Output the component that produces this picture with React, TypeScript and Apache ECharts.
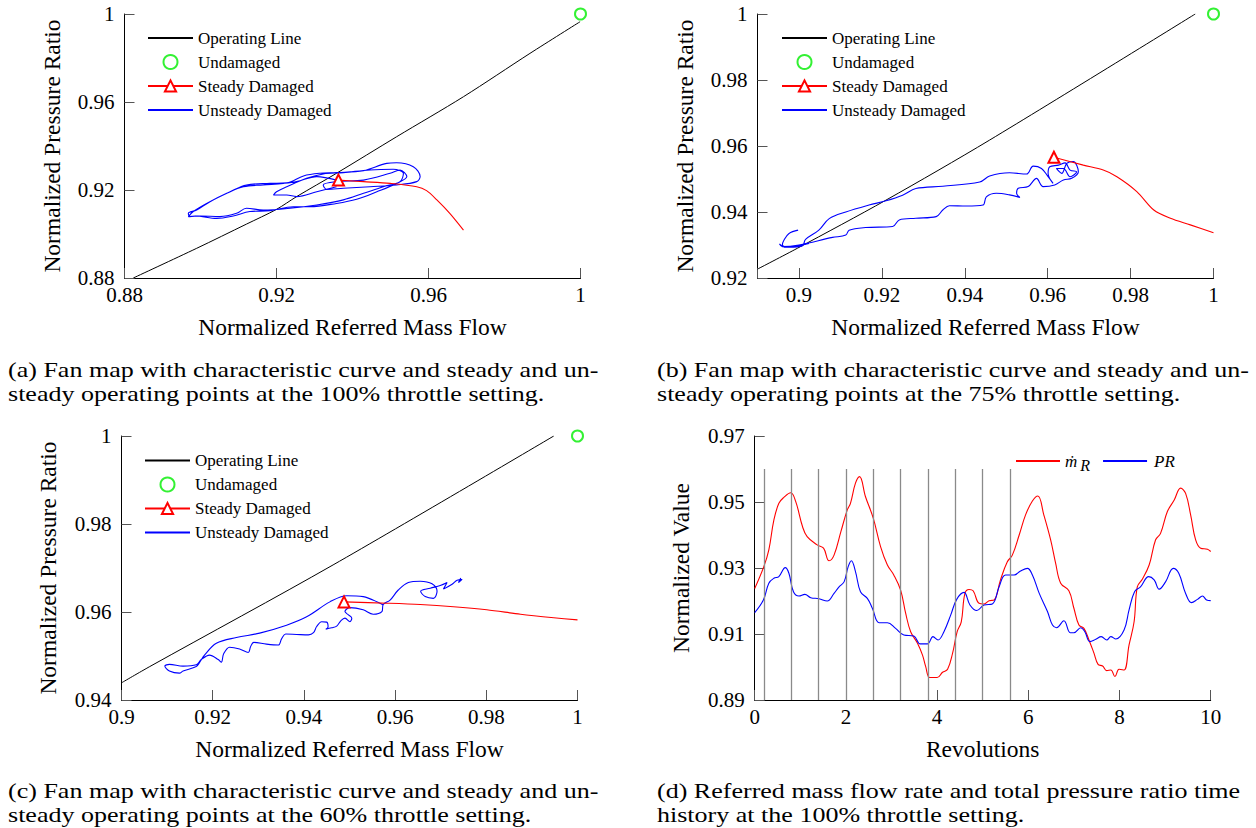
import React, { useEffect, useRef } from "react";
import * as echarts from "echarts";

const FONT = "Liberation Serif";

// ---------- (a) 100% throttle ----------
const opLineAX = [0.8823, 0.899, 0.9121, 0.92, 0.9253, 0.9358, 0.9516, 0.9692, 0.9867, 0.9999];
const opLineAY = [0.88, 0.8935, 0.9045, 0.9112, 0.917, 0.9276, 0.9442, 0.9624, 0.9821, 0.9965];
const steadyAX = [0.9363, 0.9429, 0.9499, 0.9569, 0.9595, 0.9622, 0.9656, 0.9692];
const steadyAY = [0.9245, 0.9238, 0.923, 0.9215, 0.9197, 0.9155, 0.9094, 0.9018];
const unsteadyAX = [
  0.9358, 0.9306, 0.9253, 0.9227, 0.9192, 0.92, 0.9227, 0.9279, 0.9323, 0.9376,
  0.9446, 0.9507, 0.9534, 0.9525, 0.9481, 0.9429, 0.9376, 0.9306, 0.9236, 0.9165,
  0.9121, 0.9095, 0.9051, 0.8999, 0.8972, 0.8968, 0.899, 0.9025, 0.9078, 0.9121,
  0.9183, 0.9227, 0.9271, 0.9314, 0.9358, 0.9429, 0.949, 0.9516, 0.956, 0.9578,
  0.9569, 0.9516, 0.9446, 0.9376, 0.9332, 0.9323, 0.9358, 0.9429, 0.9499, 0.9525,
  0.9543, 0.9516, 0.9464, 0.9411, 0.9358, 0.9288, 0.9244, 0.9183, 0.913, 0.9086,
  0.9043, 0.8986, 0.8968, 0.8981, 0.9016, 0.9069, 0.9113, 0.9165, 0.9218, 0.9253,
  0.9306, 0.9358,
];
const unsteadyAY = [
  0.9215, 0.9192, 0.917, 0.9177, 0.9177, 0.9192, 0.9215, 0.9253, 0.9273, 0.9279,
  0.9291, 0.9294, 0.9276, 0.9238, 0.9215, 0.9185, 0.9155, 0.9132, 0.9117, 0.9109,
  0.9117, 0.9094, 0.9079, 0.9082, 0.9079, 0.9094, 0.9109, 0.9147, 0.9192, 0.9223,
  0.923, 0.9233, 0.9264, 0.9276, 0.9279, 0.9288, 0.9321, 0.9324, 0.9306, 0.9261,
  0.9238, 0.9223, 0.9215, 0.9208, 0.9203, 0.9223, 0.9238, 0.9245, 0.9276, 0.9291,
  0.9261, 0.923, 0.9192, 0.9158, 0.9139, 0.9124, 0.9124, 0.9106, 0.9102, 0.9082,
  0.9071, 0.9082, 0.9079, 0.9102, 0.9139, 0.9185, 0.9215, 0.9223, 0.923, 0.9238,
  0.9261, 0.9245,
];

// ---------- (b) 75% throttle ----------
const opLineBX = [0.89, 0.8996, 0.921, 0.946, 0.9956];
const opLineBY = [0.9227, 0.929, 0.9436, 0.9618, 1.0];
const steadyBX = [0.9615, 0.9686, 0.9734, 0.9767, 0.9815, 0.9856, 0.9896, 0.9944, 1.0];
const steadyBY = [0.9566, 0.9542, 0.9527, 0.9507, 0.9462, 0.9406, 0.9381, 0.9361, 0.9337];
const unsteadyBX = [
  0.8998, 0.8976, 0.8964, 0.896, 0.8976, 0.9008, 0.9016, 0.9048, 0.9073, 0.9113,
  0.9169, 0.921, 0.925, 0.9282, 0.9347, 0.9436, 0.946, 0.9508, 0.9549, 0.9565,
  0.9585, 0.9601, 0.9613, 0.9601, 0.9605, 0.9626, 0.9642, 0.9654, 0.967, 0.9654,
  0.9638, 0.9621, 0.9634, 0.9646, 0.9662, 0.9674, 0.9658, 0.9638, 0.9617, 0.9589,
  0.9573, 0.9553, 0.9529, 0.9525, 0.9533, 0.9508, 0.9476, 0.9452, 0.9444, 0.9404,
  0.9363, 0.9347, 0.9331, 0.9282, 0.9242, 0.9226, 0.9161, 0.9121, 0.9113, 0.9081,
  0.9, 0.896, 0.8953, 0.8968, 0.9024,
];
const unsteadyBY = [
  0.9345, 0.9335, 0.9315, 0.93, 0.9293, 0.9297, 0.9317, 0.9345, 0.938, 0.94,
  0.9421, 0.9434, 0.9451, 0.9471, 0.9478, 0.9491, 0.9509, 0.9519, 0.9515, 0.9539,
  0.9532, 0.9507, 0.9487, 0.9517, 0.9537, 0.9542, 0.9549, 0.9527, 0.9522, 0.9507,
  0.9532, 0.9532, 0.9517, 0.9547, 0.9553, 0.9522, 0.9502, 0.9497, 0.9482, 0.9477,
  0.9502, 0.9477, 0.9472, 0.9457, 0.9444, 0.9452, 0.9457, 0.9446, 0.9421, 0.9418,
  0.9419, 0.9406, 0.9386, 0.9381, 0.9376, 0.9356, 0.9353, 0.9345, 0.933, 0.9323,
  0.93, 0.9295, 0.9303, 0.9293, 0.9305,
];

// ---------- (c) 60% throttle ----------
const opLineCX = [0.9, 0.9062, 0.9464, 0.9948];
const opLineCY = [0.9439, 0.9476, 0.9707, 1.0];
const steadyCX = [0.9488, 0.9582, 0.9655, 0.9728, 0.9801, 0.9875, 0.9948, 1.0];
const steadyCY = [0.9623, 0.962, 0.9617, 0.9612, 0.9605, 0.9595, 0.9587, 0.9582];
const unsteadyCX = [
  0.9574, 0.9567, 0.953, 0.9494, 0.9457, 0.9406, 0.9362, 0.9303, 0.9252, 0.9208,
  0.9182, 0.9171, 0.9164, 0.9135, 0.9127, 0.9105, 0.9095, 0.9105, 0.9135, 0.9164,
  0.9175,
  0.9193, 0.9212, 0.9219, 0.9224, 0.9237, 0.9259, 0.9278, 0.9283, 0.929, 0.9318,
  0.9344, 0.9351, 0.936, 0.9384, 0.941, 0.9421, 0.9428, 0.9439, 0.945, 0.9453,
  0.9448, 0.9461, 0.9472, 0.9481, 0.949, 0.9501, 0.9505, 0.9497, 0.949, 0.9501,
  0.953, 0.9552, 0.9571, 0.9574,
  0.9589, 0.9607, 0.9629, 0.9655, 0.9681, 0.9692, 0.9684, 0.9666, 0.9656, 0.9677,
  0.9699, 0.9714, 0.9706, 0.9725, 0.9736, 0.9747, 0.9739, 0.9744,
];
const unsteadyCY = [
  0.9616, 0.962, 0.9635, 0.9637, 0.9623, 0.9589, 0.957, 0.9552, 0.9542, 0.9529,
  0.9502, 0.9485, 0.9476, 0.9466, 0.9461, 0.9466, 0.9477, 0.9481, 0.9477, 0.948,
  0.9492,
  0.9502, 0.9492, 0.9486, 0.9505, 0.952, 0.9516, 0.9508, 0.9521, 0.9531, 0.9527,
  0.9525, 0.9539, 0.955, 0.9549, 0.9548, 0.9553, 0.9567, 0.9578, 0.9577, 0.9566,
  0.9561, 0.9564, 0.9568, 0.958, 0.9586, 0.9578, 0.9586, 0.9594, 0.9601, 0.961,
  0.9605, 0.9595, 0.9601, 0.9617,
  0.9627, 0.965, 0.9667, 0.967, 0.9664, 0.9647, 0.9631, 0.9635, 0.9647, 0.9654,
  0.966, 0.9667, 0.9652, 0.9663, 0.9672, 0.9674, 0.9667, 0.9677,
];

// undamaged design point (same in a, b, c)
const undamagedX = 1.0;
const undamagedY = 1.0;

// ---------- (d) time history ----------
const mdotTime = [
  0, 0.2, 0.31, 0.42, 0.53, 0.64, 0.79, 0.9, 1.05, 1.15, 1.37, 1.51, 1.63, 1.74, 1.89, 2.03,
  2.1, 2.21, 2.3, 2.43, 2.6, 2.76, 2.91, 3.05, 3.2, 3.31, 3.42, 3.57, 3.68, 3.75, 3.84, 4.0,
  4.12, 4.23, 4.34, 4.44, 4.53, 4.61, 4.7, 4.79, 4.92, 5.03, 5.14, 5.25, 5.39, 5.54, 5.65,
  5.8, 5.94, 6.09, 6.21, 6.34, 6.49, 6.6, 6.71, 6.89, 7.0, 7.11, 7.22, 7.33, 7.44, 7.53,
  7.63, 7.72, 7.81, 7.9, 7.99, 8.1, 8.21, 8.32, 8.39, 8.5, 8.65, 8.79, 8.9, 9.05, 9.2,
  9.34, 9.45, 9.56, 9.67, 9.78, 9.93, 10.0,
];
const mdotValues = [
  0.9238, 0.9304, 0.9355, 0.9445, 0.9496, 0.9514, 0.9528, 0.9501, 0.9425, 0.9395, 0.937,
  0.936, 0.9322, 0.9339, 0.941, 0.9476, 0.9496, 0.9557, 0.9577, 0.9516, 0.9451, 0.9365,
  0.9309, 0.9279, 0.9233, 0.9163, 0.9107, 0.9072, 0.9036, 0.9001, 0.8968, 0.8968, 0.8984,
  0.8993, 0.9042, 0.9107, 0.9137, 0.9223, 0.9235, 0.9231, 0.9193, 0.9191, 0.9201, 0.9203,
  0.9264, 0.9319, 0.9339, 0.94, 0.9461, 0.9503, 0.9518, 0.9461, 0.9385, 0.9314, 0.9254,
  0.9231, 0.9178, 0.9127, 0.9117, 0.9082, 0.9042, 0.9008, 0.9003, 0.8989, 0.8991, 0.8971,
  0.8993, 0.8991, 0.9067, 0.9137, 0.9243, 0.9266, 0.9309, 0.9385, 0.9405, 0.9471, 0.9506,
  0.9542, 0.9526, 0.9461, 0.9385, 0.936, 0.9357, 0.935,
];
const prTime = [
  0, 0.19, 0.31, 0.42, 0.53, 0.67, 0.75, 0.85, 0.97, 1.1, 1.23, 1.41, 1.59, 1.74, 1.85,
  1.96, 2.05, 2.12, 2.21, 2.32, 2.47, 2.58, 2.73, 2.91, 3.09, 3.27, 3.49, 3.63, 3.79, 3.91,
  4.02, 4.15, 4.3, 4.43, 4.59, 4.72, 4.87, 5.03, 5.21, 5.36, 5.5, 5.69, 5.83, 5.98, 6.09,
  6.24, 6.42, 6.53, 6.62, 6.78, 6.92, 7.0, 7.15, 7.24, 7.35, 7.48, 7.6, 7.72, 7.81, 7.92,
  8.1, 8.21, 8.33, 8.46, 8.64, 8.76, 8.87, 9.01, 9.18, 9.3, 9.45, 9.58, 9.71, 9.82, 9.91,
  10.0,
];
const prValues = [
  0.9165, 0.9203, 0.9254, 0.9269, 0.9274, 0.9301, 0.9284, 0.9228, 0.9215, 0.922, 0.921,
  0.9207, 0.92, 0.9223, 0.9243, 0.9258, 0.9304, 0.9322, 0.9289, 0.9228, 0.9208, 0.9178,
  0.9134, 0.9134, 0.9117, 0.9097, 0.9094, 0.907, 0.907, 0.9092, 0.9082, 0.9107, 0.9158,
  0.9205, 0.9226, 0.9188, 0.9171, 0.9188, 0.9191, 0.9243, 0.9279, 0.9279, 0.9291, 0.9299,
  0.9279, 0.9223, 0.9168, 0.9127, 0.9119, 0.914, 0.9104, 0.9104, 0.9119, 0.9107, 0.9077,
  0.9084, 0.9092, 0.9082, 0.9092, 0.9085, 0.9112, 0.9173, 0.9228, 0.9243, 0.9274, 0.9264,
  0.9236, 0.9258, 0.9299, 0.9284, 0.9223, 0.9195, 0.9205, 0.9215, 0.9203, 0.9201,
];
const revolutionMarks = [0.2, 0.8, 1.4, 2.0, 2.6, 3.2, 3.8, 4.4, 5.0, 5.6];
const markLow = 0.89;
const markHigh = 0.96;

const captions = [
  { x: 8, y: 370, text: "(a) Fan map with characteristic curve and steady and un-" },
  { x: 8, y: 394, text: "steady operating points at the 100% throttle setting." },
  { x: 657, y: 370, text: "(b) Fan map with characteristic curve and steady and un-" },
  { x: 657, y: 394, text: "steady operating points at the 75% throttle setting." },
  { x: 8, y: 791, text: "(c) Fan map with characteristic curve and steady and un-" },
  { x: 8, y: 815, text: "steady operating points at the 60% throttle setting." },
  { x: 657, y: 791, text: "(d) Referred mass flow rate and total pressure ratio time" },
  { x: 657, y: 815, text: "history at the 100% throttle setting." },
];

const pairs = (xs: number[], ys: number[]) => xs.map((x, i) => [x, ys[i]]);

const lineOnly = { itemStyle: { opacity: 0 } };
const MAP_LEGEND_DATA = [
  { name: "Operating Line", ...lineOnly },
  { name: "Undamaged" },
  { name: "Steady Damaged" },
  { name: "Unsteady Damaged", ...lineOnly },
];

function axisBase(gridIndex: number, name: string, nameGap: number, isX: boolean) {
  return {
    type: "value" as const,
    gridIndex,
    name,
    nameLocation: "middle" as const,
    nameGap,
    nameTextStyle: { color: "#000", fontFamily: FONT, fontSize: 23.5 },
    axisLine: { show: true, onZero: false, lineStyle: { color: "#000", width: 1 } },
    axisTick: { show: true, inside: true, length: 10, lineStyle: { color: "#555", width: 1 } },
    splitLine: { show: false },
    axisLabel: { color: "#000", fontFamily: FONT, fontSize: 21, margin: isX ? 6 : 10 },
  };
}

function mapSeries(i: number, op: number[][], steady: number[][], unsteady: number[][]) {
  return [
    {
      name: "Operating Line",
      type: "line",
      xAxisIndex: i,
      yAxisIndex: i,
      data: op,
      smooth: 0.3,
      symbol: "none",
      lineStyle: { color: "#000", width: 1 },
      itemStyle: { color: "#000" },
      z: 3,
    },
    {
      name: "Unsteady Damaged",
      type: "line",
      xAxisIndex: i,
      yAxisIndex: i,
      data: unsteady,
      smooth: 0.35,
      symbol: "none",
      lineStyle: { color: "#0000ff", width: 1.1 },
      itemStyle: { color: "#0000ff" },
      z: 4,
    },
    {
      name: "Steady Damaged",
      type: "line",
      xAxisIndex: i,
      yAxisIndex: i,
      data: steady.map((p, k) => (k === 0 ? { value: p } : { value: p, symbol: "none" })),
      smooth: 0.3,
      symbol: "emptyTriangle",
      symbolSize: 11,
      showSymbol: true,
      lineStyle: { color: "#ff0000", width: 1.1 },
      itemStyle: { color: "#ff0000", borderWidth: 1.3 },
      z: 5,
    },
    {
      name: "Undamaged",
      type: "scatter",
      xAxisIndex: i,
      yAxisIndex: i,
      data: [[undamagedX, undamagedY]],
      symbol: "emptyCircle",
      symbolSize: 11,
      clip: false,
      itemStyle: { color: "#00ee00", borderWidth: 1.3 },
      z: 6,
    },
  ];
}

function mapLegend(left: number, top: number) {
  return {
    data: MAP_LEGEND_DATA,
    orient: "vertical" as const,
    left,
    top,
    padding: 0,
    align: "left" as const,
    itemWidth: 45,
    itemHeight: 14,
    itemGap: 7,
    selectedMode: false,
    textStyle: { fontFamily: FONT, fontSize: 17, color: "#000", lineHeight: 16 },
  };
}

function buildOption() {
  const xb = axisBase(1, "Normalized Referred Mass Flow", 37, true);
  return {
    animation: false,
    backgroundColor: "#fff",
    textStyle: { fontFamily: FONT },
    grid: [
      { left: 124.5, top: 14, width: 456, height: 264 },
      { left: 757.5, top: 14, width: 456, height: 264 },
      { left: 121.5, top: 436, width: 456, height: 264 },
      { left: 754.7, top: 436, width: 456, height: 264 },
    ],
    xAxis: [
      { ...axisBase(0, "Normalized Referred Mass Flow", 37, true), min: 0.88, max: 1, interval: 0.04 },
      {
        ...xb,
        min: 0.89,
        max: 1,
        minInterval: 0.02,
        maxInterval: 0.02,
        axisLabel: { ...xb.axisLabel, formatter: (v: number) => (v < 0.8999 ? "" : String(+v.toFixed(2))) },
      },
      { ...axisBase(2, "Normalized Referred Mass Flow", 37, true), min: 0.9, max: 1, interval: 0.02 },
      { ...axisBase(3, "Revolutions", 37, true), min: 0, max: 10, interval: 2 },
    ],
    yAxis: [
      { ...axisBase(0, "Normalized Pressure Ratio", 61, false), min: 0.88, max: 1, interval: 0.04 },
      { ...axisBase(1, "Normalized Pressure Ratio", 61, false), min: 0.92, max: 1, interval: 0.02 },
      { ...axisBase(2, "Normalized Pressure Ratio", 62, false), min: 0.94, max: 1, interval: 0.02 },
      { ...axisBase(3, "Normalized Value", 62, false), min: 0.89, max: 0.97, interval: 0.02 },
    ],
    legend: [
      mapLegend(147, 29.5),
      mapLegend(781, 29.5),
      mapLegend(144, 452),
      {
        data: [
          { name: "ṁR", ...lineOnly },
          { name: "PR", ...lineOnly },
        ],
        orient: "horizontal",
        left: 1015,
        top: 452.5,
        padding: 0,
        itemWidth: 44,
        itemHeight: 14,
        itemGap: 12,
        selectedMode: false,
        formatter: (name: string) => (name === "ṁR" ? "{m|ṁ}{s|R}" : "{i|PR}"),
        textStyle: {
          fontFamily: FONT,
          fontSize: 15,
          color: "#000",
          rich: {
            m: { fontFamily: FONT, fontStyle: "italic", fontSize: 17, color: "#000" },
            s: { fontFamily: FONT, fontStyle: "italic", fontSize: 16, color: "#000", padding: [9, 0, 0, 3] },
            i: { fontFamily: FONT, fontStyle: "italic", fontSize: 17, color: "#000", padding: [0, 0, 0, 2] },
          },
        },
      },
    ],
    series: [
      ...mapSeries(0, pairs(opLineAX, opLineAY), pairs(steadyAX, steadyAY), pairs(unsteadyAX, unsteadyAY)),
      ...mapSeries(1, pairs(opLineBX, opLineBY), pairs(steadyBX, steadyBY), pairs(unsteadyBX, unsteadyBY)),
      ...mapSeries(2, pairs(opLineCX, opLineCY), pairs(steadyCX, steadyCY), pairs(unsteadyCX, unsteadyCY)),
      {
        name: "revolution marks",
        type: "line",
        xAxisIndex: 3,
        yAxisIndex: 3,
        data: [],
        z: 1,
        markLine: {
          silent: true,
          symbol: ["none", "none"],
          label: { show: false },
          lineStyle: { color: "#8a8a8a", width: 1.3, type: "solid" },
          data: revolutionMarks.map((t) => [{ coord: [t, markLow] }, { coord: [t, markHigh] }]),
        },
      },
      {
        name: "ṁR",
        type: "line",
        xAxisIndex: 3,
        yAxisIndex: 3,
        data: pairs(mdotTime, mdotValues),
        smooth: 0.4,
        symbol: "none",
        lineStyle: { color: "#ff0000", width: 1.1 },
        itemStyle: { color: "#ff0000" },
        z: 3,
      },
      {
        name: "PR",
        type: "line",
        xAxisIndex: 3,
        yAxisIndex: 3,
        data: pairs(prTime, prValues),
        smooth: 0.4,
        symbol: "none",
        lineStyle: { color: "#0000ff", width: 1.1 },
        itemStyle: { color: "#0000ff" },
        z: 4,
      },
    ],
    graphic: captions.map((c) => ({
      type: "text",
      x: c.x,
      y: c.y,
      scaleX: 1.24,
      silent: true,
      style: {
        text: c.text,
        fontFamily: FONT,
        fontSize: 21,
        fill: "#000",
        verticalAlign: "middle",
        align: "left",
      },
    })),
  };
}

export default function App() {
  const ref = useRef<HTMLDivElement>(null);
  useEffect(() => {
    if (!ref.current) return;
    const chart = echarts.init(ref.current, null, { renderer: "svg" });
    chart.setOption(buildOption() as any);
    return () => chart.dispose();
  }, []);
  return (
    <div
      ref={ref}
      style={{ position: "fixed", left: 0, top: 0, width: 1256, height: 828, background: "#fff" }}
    />
  );
}
